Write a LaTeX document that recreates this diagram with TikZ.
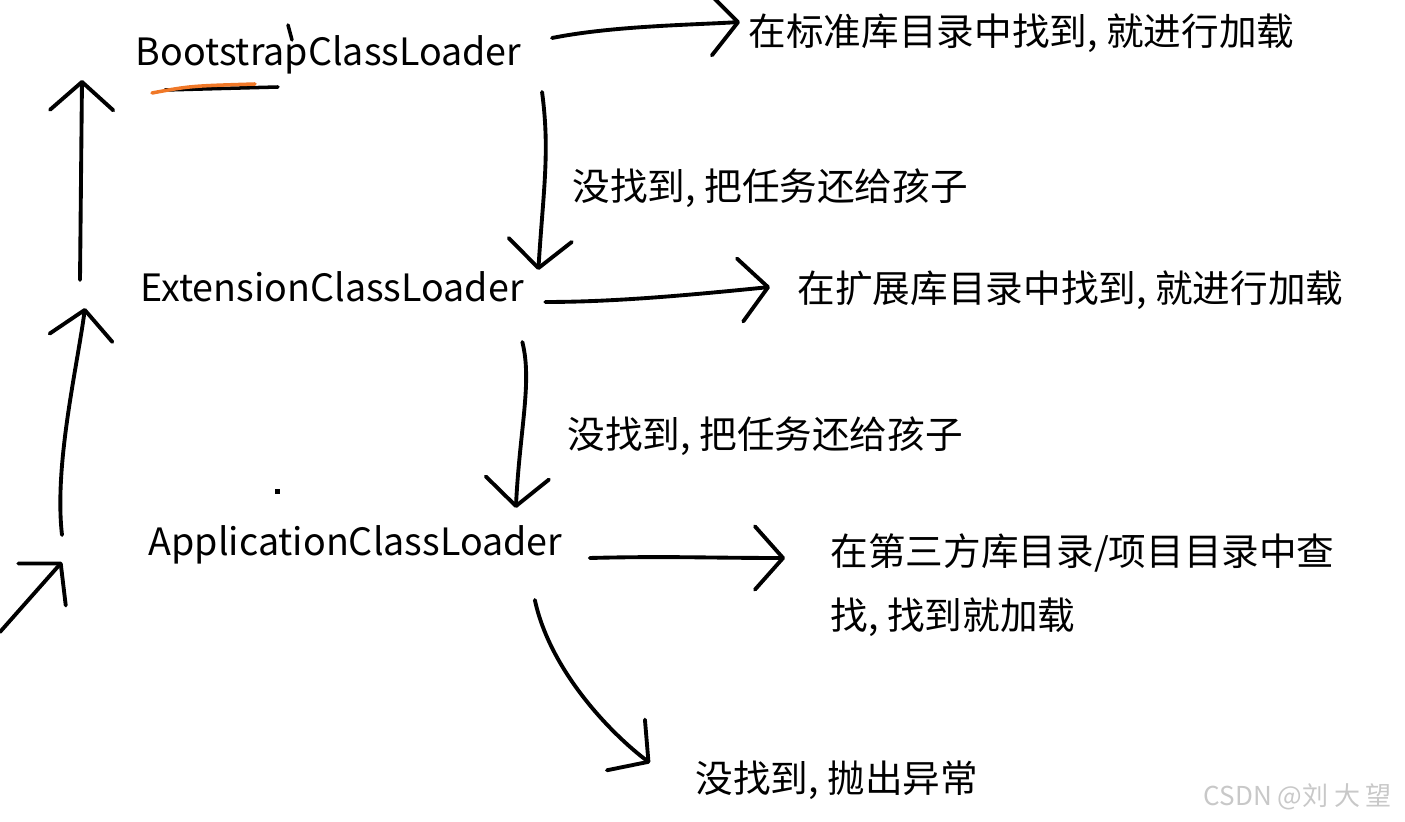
\documentclass[tikz,border=0pt]{standalone}
\usepackage{fontspec}
\setmainfont{Noto Sans CJK SC}
\usepackage{tikz}
\usetikzlibrary{arrows.meta}
\usepackage{xcolor}
\definecolor{myorange}{RGB}{240,120,40}
\definecolor{mygray}{RGB}{200,200,200}

\tikzset{
  loader/.style={anchor=west, inner sep=0pt, font=\fontsize{10.7}{18.2}\selectfont},
  note/.style={anchor=west, inner sep=0pt, align=left, font=\fontsize{10.7}{18.2}\selectfont},
  hand/.style={line width=1.1pt, line cap=round, -{Straight Barb[length=8pt,width=18pt,round]}},
}

\begin{document}
\begin{tikzpicture}[x=0.01cm, y=-0.01cm]
  \useasboundingbox (0,0) rectangle (1405,822);

  % Loaders
  \node[loader] (boot) at (135,55) {BootstrapClassLoader};
  \node[loader] (ext) at (140,287) {ExtensionClassLoader};
  \node[loader] (app) at (148,545) {ApplicationClassLoader};

  % Labels
  \node[note] (std) at (748,33) {在标准库目录中找到, 就进行加载};
  \node[note] (back1) at (572,188) {没找到, 把任务还给孩子};
  \node[note] (extlib) at (797,290) {在扩展库目录中找到, 就进行加载};
  \node[note] (back2) at (567,436) {没找到, 把任务还给孩子};
  \node[note] (applib) at (830,585) {在第三方库目录/项目目录中查\\找, 找到就加载};
  \node[note] (exc) at (695,780) {没找到, 抛出异常};
  \node[anchor=west, inner sep=0pt, mygray, font=\fontsize{7.4}{9}\selectfont] (mark) at (1203,797) {CSDN @刘 大 望};

  % Found: load it
  \draw[hand] ([shift={(30,-17)}]boot.east) .. controls +(60,-12) and +(-50,3) .. ([shift={(-8,-11)}]std.west);
  \draw[hand] ([shift={(21,15)}]ext.east) .. controls +(70,0) and +(-80,8) .. ([shift={(-27,-3)}]extlib.west);
  \draw[hand] ([shift={(27,13)}]app.east) .. controls +(80,-2) and +(-80,0) .. ([shift={(-45,-27)}]applib.west);

  % Not found: back to the child
  \draw[hand] ([shift={(20,37)}]boot.east) .. controls +(8,60) and +(5,-80) .. ([shift={(14,-17)}]ext.east);
  \draw[hand] ([shift={(-2,55)}]ext.east) .. controls +(10,40) and +(4,-80) .. ([shift={(-47,-37)}]app.east);
  \draw[hand] ([shift={(-28,55)}]app.east) .. controls +(15,70) and +(-40,-30) .. ([shift={(-45,-17)}]exc.west);

  % Delegate to the parent
  \coordinate (low) at (0,632);
  \draw[hand] (low) -- ([shift={(-86,17)}]app.west);
  \draw[hand] ([shift={(-86,-10)}]app.west) .. controls +(-8,-70) and +(-8,60) .. ([shift={(-55,21)}]ext.west);
  \draw[hand] ([shift={(-60,-7)}]ext.west) -- ([shift={(-53,25)}]boot.west);

  % Pen marks
  \draw[line width=1pt, line cap=round] (165,90) -- (278,87);
  \draw[myorange, line width=1pt, line cap=round] (152,93) .. controls (190,86) .. (255,84);
  \draw[line width=1pt, line cap=round] (288,25) -- (292,40);
  \fill (275,489) rectangle (280,494);
\end{tikzpicture}
\end{document}
